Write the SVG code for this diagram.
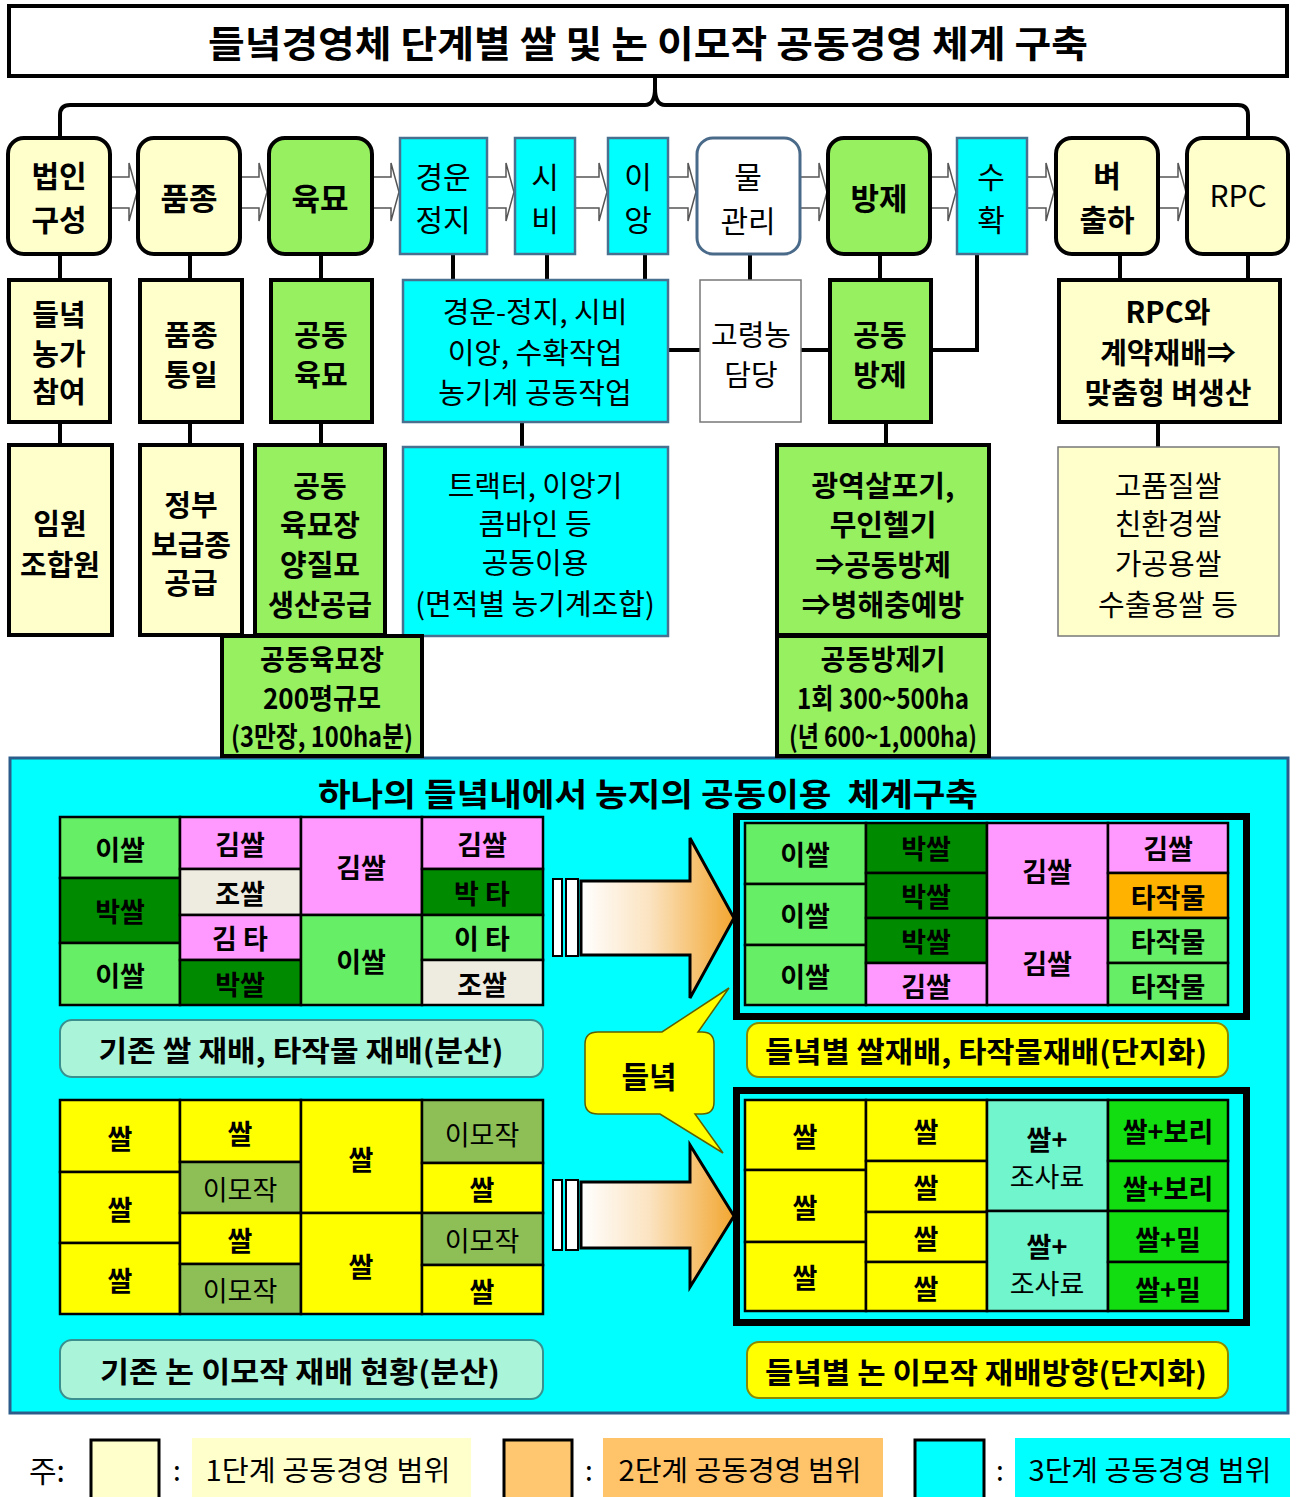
<svg xmlns="http://www.w3.org/2000/svg" width="1296" height="1497" viewBox="0 0 1296 1497">
<defs>
<style>
text{font-family:"Noto Sans CJK KR","Noto Sans",sans-serif;text-anchor:middle;dominant-baseline:central;fill:#000}
.b{font-weight:700}
.n{font-weight:400}
.t31{font-size:31px}
.t30{font-size:30px}
.t29{font-size:29px}
.t28{font-size:28px}
.t27{font-size:27px}
.yel{fill:#FFFFCC;stroke:#000;stroke-width:4}
.grn{fill:#96F060;stroke:#000;stroke-width:4}
.cyn{fill:#00FFFF;stroke:#4A7090;stroke-width:2.5}
.wht{fill:#FFFFFF;stroke:#4A6A8A;stroke-width:3}
.conn{stroke:#000;stroke-width:4;fill:none}
.harr{fill:#FFFFFF;stroke:#555;stroke-width:1.5}
.cell{stroke:#000;stroke-width:2.5}
.LG{fill:#66EE66}.DG{fill:#008A00}.PK{fill:#FF99FF}.BG{fill:#EEEBE0}.OR{fill:#FFB300}
.Y{fill:#FFFF00}.OL{fill:#8DBF56}.AQ{fill:#70F5CC}.GR{fill:#11DD11}
.lbl1{fill:#AAF5DA;stroke:#3A8F8F;stroke-width:2}
.lbl2{fill:#FFFF00;stroke:#8A8A00;stroke-width:2}
.frame{fill:none;stroke:#000;stroke-width:7}
.bigarr{fill:url(#ag);stroke:#000;stroke-width:3}
.tail{fill:#FFFFFF;stroke:#000;stroke-width:2}
</style>
<linearGradient id="ag" x1="0" y1="0" x2="1" y2="0">
<stop offset="0" stop-color="#FFFFFF"/>
<stop offset="0.45" stop-color="#FBE3C0"/>
<stop offset="1" stop-color="#F2A630"/>
</linearGradient>
</defs>
<rect x="0" y="0" width="1296" height="1497" fill="#FFFFFF"/>

<!-- panel -->
<g id="panel">
<rect x="10" y="758" width="1278" height="655" fill="#00FFFF" stroke="#2B5C8A" stroke-width="3"/>
<text class="b" x="648" y="792" style="font-size:32px;white-space:pre" textLength="660" lengthAdjust="spacingAndGlyphs">하나의 들녘내에서 농지의 공동이용  체계구축</text>
</g>

<!-- title -->
<g id="title">
<rect x="9" y="6" width="1278" height="70" fill="#FFFFFF" stroke="#000" stroke-width="4"/>
<text class="b" x="648" y="42" style="font-size:37px" textLength="880" lengthAdjust="spacingAndGlyphs">들녘경영체 단계별 쌀 및 논 이모작 공동경영 체계 구축</text>
</g>

<!-- connectors -->
<g id="connectors">
<path class="conn" stroke-width="3" d="M60,137 L60,115 Q60,105 70,105 L645,105 Q655,105 655,88 Q655,105 665,105 L1238,105 Q1248,105 1248,115 L1248,137 M655,77 L655,88"/>
<polygon class="harr" points="110,177 129,177 129,163 137,192 129,221 129,208 110,208"/>
<polygon class="harr" points="240,177 259,177 259,163 267,192 259,221 259,208 240,208"/>
<polygon class="harr" points="372,177 391,177 391,163 399,192 391,221 391,208 372,208"/>
<polygon class="harr" points="487,177 506,177 506,163 514,192 506,221 506,208 487,208"/>
<polygon class="harr" points="575,177 599,177 599,163 607,192 599,221 599,208 575,208"/>
<polygon class="harr" points="668,177 688,177 688,163 696,192 688,221 688,208 668,208"/>
<polygon class="harr" points="800,177 819,177 819,163 827,192 819,221 819,208 800,208"/>
<polygon class="harr" points="930,177 948,177 948,163 956,192 948,221 948,208 930,208"/>
<polygon class="harr" points="1027,177 1046,177 1046,163 1054,192 1046,221 1046,208 1027,208"/>
<polygon class="harr" points="1158,177 1178,177 1178,163 1186,192 1178,221 1178,208 1158,208"/>
<path class="conn" d="M60,255 V280 M60,422 V445 M190,255 V280 M190,422 V445 M321,255 V280 M321,422 V445 M453,255 V280 M547,255 V280 M645,255 V280 M750,255 V280 M880,255 V280 M886,422 V445 M522,422 V447 M977,255 V350 H668 M1120,255 V280 M1248,255 V280 M1158,422 V447"/>
</g>

<!-- top row -->
<g id="n-corp"><rect class="yel" x="8" y="138" width="102" height="116" rx="16"/><text class="b t30" x="59" y="174">법인</text><text class="b t30" x="59" y="218">구성</text></g>
<g id="n-variety"><rect class="yel" x="138" y="138" width="102" height="116" rx="16"/><text class="b t31" x="189" y="196">품종</text></g>
<g id="n-seedling"><rect class="grn" x="269" y="138" width="103" height="116" rx="16"/><text class="b t31" x="320" y="196">육묘</text></g>
<g id="n-tillage"><rect class="cyn" x="400" y="138" width="87" height="116"/><text class="n t30" x="443" y="175">경운</text><text class="n t30" x="443" y="218">정지</text></g>
<g id="n-fert"><rect class="cyn" x="515" y="138" width="60" height="116"/><text class="n t30" x="545" y="175">시</text><text class="n t30" x="545" y="218">비</text></g>
<g id="n-transplant"><rect class="cyn" x="608" y="138" width="60" height="116"/><text class="n t30" x="638" y="175">이</text><text class="n t30" x="638" y="218">앙</text></g>
<g id="n-water"><rect class="wht" x="697" y="138" width="103" height="116" rx="16"/><text class="n t30" x="748" y="175">물</text><text class="n t30" x="748" y="219">관리</text></g>
<g id="n-control"><rect class="grn" x="828" y="138" width="102" height="116" rx="16"/><text class="b t31" x="879" y="196">방제</text></g>
<g id="n-harvest"><rect class="cyn" x="957" y="138" width="70" height="116"/><text class="n t30" x="991" y="175">수</text><text class="n t30" x="991" y="218">확</text></g>
<g id="n-ship"><rect class="yel" x="1056" y="138" width="102" height="116" rx="16"/><text class="b t30" x="1107" y="174">벼</text><text class="b t30" x="1107" y="218">출하</text></g>
<g id="n-rpc"><rect class="yel" x="1187" y="138" width="101" height="116" rx="16"/><text class="n t30" x="1238" y="194">RPC</text></g>

<!-- second row -->
<g id="n-farmers"><rect class="yel" x="9" y="280" width="101" height="142"/><text class="b t29" x="59" y="313">들녘</text><text class="b t29" x="59" y="352">농가</text><text class="b t29" x="59" y="390">참여</text></g>
<g id="n-unify"><rect class="yel" x="140" y="280" width="102" height="142"/><text class="b t29" x="191" y="333">품종</text><text class="b t29" x="191" y="373">통일</text></g>
<g id="n-jointseed"><rect class="grn" x="271" y="280" width="101" height="142"/><text class="b t29" x="321" y="333">공동</text><text class="b t29" x="321" y="373">육묘</text></g>
<g id="n-jointwork"><rect class="cyn" x="403" y="280" width="265" height="142"/><text class="n t29" x="535" y="310">경운-정지, 시비</text><text class="n t29" x="535" y="351">이앙, 수확작업</text><text class="n t29" x="535" y="391">농기계 공동작업</text></g>
<g id="n-elder"><rect x="700" y="280" width="101" height="142" fill="#FFFFFF" stroke="#777" stroke-width="1.5"/><text class="n t29" x="751" y="333">고령농</text><text class="n t29" x="751" y="373">담당</text></g>
<g id="n-jointctrl"><rect class="grn" x="830" y="280" width="101" height="142"/><text class="b t29" x="880" y="333">공동</text><text class="b t29" x="880" y="373">방제</text></g>
<g id="n-contract"><rect class="yel" x="1059" y="280" width="221" height="142"/><text class="b t29" x="1168" y="310">RPC와</text><text class="b t29" x="1168" y="351">계약재배⇒</text><text class="b t29" x="1168" y="391">맞춤형 벼생산</text></g>

<!-- third row -->
<g id="n-members"><rect class="yel" x="9" y="445" width="103" height="190"/><text class="b t29" x="60" y="522">임원</text><text class="b t29" x="60" y="563">조합원</text></g>
<g id="n-govseed"><rect class="yel" x="140" y="445" width="102" height="190"/><text class="b t29" x="191" y="503">정부</text><text class="b t29" x="191" y="543">보급종</text><text class="b t29" x="191" y="581">공급</text></g>
<g id="n-seedfarm"><rect class="grn" x="255" y="445" width="130" height="190"/><text class="b t29" x="320" y="484">공동</text><text class="b t29" x="320" y="523">육묘장</text><text class="b t29" x="320" y="563">양질묘</text><text class="b t29" x="320" y="603" textLength="104" lengthAdjust="spacingAndGlyphs">생산공급</text></g>
<g id="n-machines"><rect class="cyn" x="403" y="447" width="265" height="189"/><text class="n t29" x="535" y="484">트랙터, 이앙기</text><text class="n t29" x="535" y="522">콤바인 등</text><text class="n t29" x="535" y="561">공동이용</text><text class="n t29" x="535" y="602">(면적별 농기계조합)</text></g>
<g id="n-spray"><rect class="grn" x="777" y="445" width="212" height="190"/><text class="b t29" x="883" y="484">광역살포기,</text><text class="b t29" x="883" y="523">무인헬기</text><text class="b t29" x="883" y="563">⇒공동방제</text><text class="b t29" x="883" y="603">⇒병해충예방</text></g>
<g id="n-quality"><rect x="1058" y="447" width="221" height="189" fill="#FFFFCC" stroke="#777" stroke-width="1.5"/><text class="n t29" x="1168" y="484">고품질쌀</text><text class="n t29" x="1168" y="522">친환경쌀</text><text class="n t29" x="1168" y="562">가공용쌀</text><text class="n t29" x="1168" y="603">수출용쌀 등</text></g>

<!-- fourth row -->
<g id="n-seedscale"><rect class="grn" x="222" y="636" width="200" height="120"/><text class="b t28" x="322" y="658" textLength="124" lengthAdjust="spacingAndGlyphs">공동육묘장</text><text class="b t28" x="322" y="697" textLength="118" lengthAdjust="spacingAndGlyphs">200평규모</text><text class="b t28" x="322" y="735" textLength="182" lengthAdjust="spacingAndGlyphs">(3만장, 100ha분)</text></g>
<g id="n-sprayer"><rect class="grn" x="777" y="636" width="212" height="120"/><text class="b t28" x="883" y="658" textLength="125" lengthAdjust="spacingAndGlyphs">공동방제기</text><text class="b t28" x="883" y="697" textLength="172" lengthAdjust="spacingAndGlyphs">1회 300~500ha</text><text class="b t28" x="883" y="735" textLength="188" lengthAdjust="spacingAndGlyphs">(년 600~1,000ha)</text></g>

<!-- grid 1 left -->
<g id="grid-rice-before">
<rect class="cell LG" x="60" y="817" width="120" height="61"/><text class="b t27" x="120" y="848">이쌀</text>
<rect class="cell DG" x="60" y="878" width="120" height="65"/><text class="b t27" x="120" y="910">박쌀</text>
<rect class="cell LG" x="60" y="943" width="120" height="62"/><text class="b t27" x="120" y="974">이쌀</text>
<rect class="cell PK" x="180" y="817" width="121" height="52"/><text class="b t27" x="240" y="843">김쌀</text>
<rect class="cell BG" x="180" y="869" width="121" height="46"/><text class="b t27" x="240" y="892">조쌀</text>
<rect class="cell PK" x="180" y="915" width="121" height="45"/><text class="b t27" x="240" y="937">김 타</text>
<rect class="cell DG" x="180" y="960" width="121" height="45"/><text class="b t27" x="240" y="983">박쌀</text>
<rect class="cell PK" x="301" y="817" width="121" height="98"/><text class="b t27" x="361" y="866">김쌀</text>
<rect class="cell LG" x="301" y="915" width="121" height="90"/><text class="b t27" x="361" y="960">이쌀</text>
<rect class="cell PK" x="422" y="817" width="121" height="52"/><text class="b t27" x="482" y="843">김쌀</text>
<rect class="cell DG" x="422" y="869" width="121" height="46"/><text class="b t27" x="482" y="892">박 타</text>
<rect class="cell LG" x="422" y="915" width="121" height="45"/><text class="b t27" x="482" y="937">이 타</text>
<rect class="cell BG" x="422" y="960" width="121" height="45"/><text class="b t27" x="482" y="983">조쌀</text>
</g>
<g id="label-rice-before"><rect class="lbl1" x="60" y="1020" width="483" height="57" rx="12"/><text class="b t29" x="301" y="1049" textLength="405" lengthAdjust="spacingAndGlyphs">기존 쌀 재배, 타작물 재배(분산)</text></g>

<!-- arrow 1 -->
<g id="arrow-1">
<rect class="tail" x="553" y="879" width="9" height="77"/>
<rect class="tail" x="566" y="879" width="12" height="77"/>
<polygon class="bigarr" points="581,881 690,881 690,838 734,918 690,998 690,955 581,955"/>
</g>

<!-- grid 1 right -->
<g id="grid-rice-after">
<rect class="cell LG" x="745" y="823" width="121" height="61"/><text class="b t27" x="805" y="853">이쌀</text>
<rect class="cell LG" x="745" y="884" width="121" height="61"/><text class="b t27" x="805" y="914">이쌀</text>
<rect class="cell LG" x="745" y="945" width="121" height="60"/><text class="b t27" x="805" y="975">이쌀</text>
<rect class="cell DG" x="866" y="823" width="121" height="50"/><text class="b t27" x="926" y="847">박쌀</text>
<rect class="cell DG" x="866" y="873" width="121" height="45"/><text class="b t27" x="926" y="895">박쌀</text>
<rect class="cell DG" x="866" y="918" width="121" height="45"/><text class="b t27" x="926" y="940">박쌀</text>
<rect class="cell PK" x="866" y="963" width="121" height="42"/><text class="b t27" x="926" y="985">김쌀</text>
<rect class="cell PK" x="987" y="823" width="121" height="95"/><text class="b t27" x="1047" y="870">김쌀</text>
<rect class="cell PK" x="987" y="918" width="121" height="87"/><text class="b t27" x="1047" y="962">김쌀</text>
<rect class="cell PK" x="1108" y="823" width="120" height="50"/><text class="b t27" x="1168" y="847">김쌀</text>
<rect class="cell OR" x="1108" y="873" width="120" height="45"/><text class="b t27" x="1168" y="896">타작물</text>
<rect class="cell LG" x="1108" y="918" width="120" height="45"/><text class="b t27" x="1168" y="940">타작물</text>
<rect class="cell LG" x="1108" y="963" width="120" height="42"/><text class="b t27" x="1168" y="985">타작물</text>
<rect class="frame" x="736.5" y="816.5" width="510" height="200"/>
</g>
<g id="label-rice-after"><rect class="lbl2" x="747" y="1023" width="481" height="54" rx="12"/><text class="b t29" x="986" y="1050" textLength="442" lengthAdjust="spacingAndGlyphs">들녘별 쌀재배, 타작물재배(단지화)</text></g>

<!-- callout -->
<g id="callout-field">
<path d="M598,1032 L662,1032 L729,988 L698,1032 L702,1032 Q714,1032 714,1044 L714,1102 Q714,1114 702,1114 L695,1114 L723,1153 L660,1114 L598,1114 Q585,1114 585,1102 L585,1044 Q585,1032 598,1032 Z" fill="#FFFF00" stroke="#5F5F00" stroke-width="1.5"/>
<text class="b t30" x="649" y="1075">들녘</text>
</g>

<!-- grid 2 left -->
<g id="grid-double-before">
<rect class="cell Y" x="60" y="1100" width="120" height="72"/><text class="b t27" x="120" y="1137">쌀</text>
<rect class="cell Y" x="60" y="1172" width="120" height="71"/><text class="b t27" x="120" y="1208">쌀</text>
<rect class="cell Y" x="60" y="1243" width="120" height="71"/><text class="b t27" x="120" y="1279">쌀</text>
<rect class="cell Y" x="180" y="1100" width="121" height="62"/><text class="b t27" x="240" y="1132">쌀</text>
<rect class="cell OL" x="180" y="1162" width="121" height="51"/><text class="n t27" x="240" y="1188">이모작</text>
<rect class="cell Y" x="180" y="1213" width="121" height="51"/><text class="b t27" x="240" y="1239">쌀</text>
<rect class="cell OL" x="180" y="1264" width="121" height="50"/><text class="n t27" x="240" y="1289">이모작</text>
<rect class="cell Y" x="301" y="1100" width="121" height="113"/><text class="b t27" x="361" y="1158">쌀</text>
<rect class="cell Y" x="301" y="1213" width="121" height="101"/><text class="b t27" x="361" y="1265">쌀</text>
<rect class="cell OL" x="422" y="1100" width="121" height="63"/><text class="n t27" x="482" y="1133">이모작</text>
<rect class="cell Y" x="422" y="1163" width="121" height="50"/><text class="b t27" x="482" y="1188">쌀</text>
<rect class="cell OL" x="422" y="1213" width="121" height="52"/><text class="n t27" x="482" y="1239">이모작</text>
<rect class="cell Y" x="422" y="1265" width="121" height="49"/><text class="b t27" x="482" y="1290">쌀</text>
</g>
<g id="label-double-before"><rect class="lbl1" x="60" y="1340" width="483" height="59" rx="12"/><text class="b t29" x="300" y="1370" textLength="400" lengthAdjust="spacingAndGlyphs">기존 논 이모작 재배 현황(분산)</text></g>

<!-- arrow 2 -->
<g id="arrow-2">
<rect class="tail" x="553" y="1180" width="9" height="70"/>
<rect class="tail" x="566" y="1180" width="12" height="70"/>
<polygon class="bigarr" points="581,1182 690,1182 690,1145 734,1216 690,1287 690,1248 581,1248"/>
</g>

<!-- grid 2 right -->
<g id="grid-double-after">
<rect class="cell Y" x="745" y="1100" width="121" height="70"/><text class="b t27" x="805" y="1135">쌀</text>
<rect class="cell Y" x="745" y="1170" width="121" height="72"/><text class="b t27" x="805" y="1206">쌀</text>
<rect class="cell Y" x="745" y="1242" width="121" height="69"/><text class="b t27" x="805" y="1276">쌀</text>
<rect class="cell Y" x="866" y="1100" width="121" height="61"/><text class="b t27" x="926" y="1130">쌀</text>
<rect class="cell Y" x="866" y="1161" width="121" height="51"/><text class="b t27" x="926" y="1186">쌀</text>
<rect class="cell Y" x="866" y="1212" width="121" height="50"/><text class="b t27" x="926" y="1237">쌀</text>
<rect class="cell Y" x="866" y="1262" width="121" height="49"/><text class="b t27" x="926" y="1287">쌀</text>
<rect class="cell AQ" x="987" y="1100" width="121" height="111"/><text class="b t27" x="1047" y="1138">쌀+</text><text class="n t27" x="1047" y="1175">조사료</text>
<rect class="cell AQ" x="987" y="1211" width="121" height="100"/><text class="b t27" x="1047" y="1245">쌀+</text><text class="n t27" x="1047" y="1282">조사료</text>
<rect class="cell GR" x="1108" y="1100" width="120" height="61"/><text class="b t27" x="1168" y="1130">쌀+보리</text>
<rect class="cell GR" x="1108" y="1161" width="120" height="50"/><text class="b t27" x="1168" y="1187">쌀+보리</text>
<rect class="cell GR" x="1108" y="1211" width="120" height="51"/><text class="b t27" x="1168" y="1238">쌀+밀</text>
<rect class="cell GR" x="1108" y="1262" width="120" height="49"/><text class="b t27" x="1168" y="1288">쌀+밀</text>
<rect class="frame" x="736.5" y="1090.5" width="510" height="232"/>
</g>
<g id="label-double-after"><rect class="lbl2" x="747" y="1342" width="481" height="56" rx="12"/><text class="b t29" x="986" y="1371" textLength="442" lengthAdjust="spacingAndGlyphs">들녘별 논 이모작 재배방향(단지화)</text></g>

<!-- legend -->
<g id="legend">
<text class="n t30" x="47" y="1469">주:</text>
<rect x="91" y="1440" width="68" height="70" fill="#FFFFCC" stroke="#000" stroke-width="3"/>
<text class="n t28" x="177" y="1469">:</text>
<rect x="192" y="1438" width="279" height="59" fill="#FFFFCC"/>
<text class="n t28" x="328" y="1469" textLength="245" lengthAdjust="spacingAndGlyphs">1단계 공동경영 범위</text>
<rect x="504" y="1440" width="68" height="70" fill="#FFC870" stroke="#000" stroke-width="3"/>
<text class="n t28" x="589" y="1469">:</text>
<rect x="603" y="1438" width="280" height="59" fill="#FFC46A"/>
<text class="n t28" x="740" y="1469" textLength="243" lengthAdjust="spacingAndGlyphs">2단계 공동경영 범위</text>
<rect x="915" y="1440" width="69" height="70" fill="#00FFFF" stroke="#000" stroke-width="3"/>
<text class="n t28" x="1000" y="1469">:</text>
<rect x="1015" y="1438" width="275" height="59" fill="#00FFFF"/>
<text class="n t28" x="1150" y="1469" textLength="243" lengthAdjust="spacingAndGlyphs">3단계 공동경영 범위</text>
</g>
</svg>
